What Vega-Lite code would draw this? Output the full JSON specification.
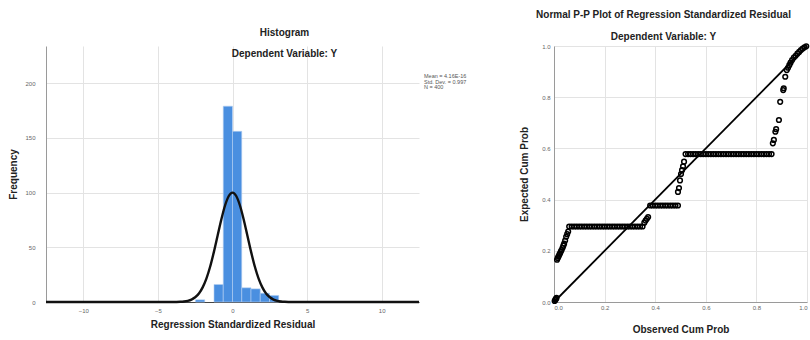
{
  "$schema": "https://vega.github.io/schema/vega-lite/v6.json",
  "padding": {"left": 8, "top": 9, "right": 0, "bottom": 0},
  "bounds": "flush",
  "spacing": 5,
  "config": {
    "font": "Liberation Sans",
    "view": {"stroke": null},
    "axis": {
      "labelFontSize": 6,
      "labelColor": "#666666",
      "titleFontSize": 10,
      "titleFontWeight": "bold",
      "titleColor": "#222222",
      "gridColor": "#e3e3e3",
      "ticks": false,
      "domainColor": "#9a9a9a"
    },
    "title": {
      "fontSize": 10,
      "fontWeight": "bold",
      "color": "#222222",
      "subtitleFontSize": 10,
      "subtitleFontWeight": "bold",
      "subtitleColor": "#222222",
      "anchor": "middle",
      "frame": "group"
    }
  },
  "hconcat": [
    {
      "width": 373,
      "height": 256,
      "title": {"text": "Histogram", "subtitle": "Dependent Variable: Y", "dx": 52, "offset": -13, "subtitlePadding": 11},
      "layer": [
        {
          "data": {"values": [
            {"bin_start": -2.48, "bin_end": -1.86, "count": 2},
            {"bin_start": -1.24, "bin_end": -0.62, "count": 16},
            {"bin_start": -0.62, "bin_end": 0, "count": 179},
            {"bin_start": 0, "bin_end": 0.62, "count": 156},
            {"bin_start": 0.62, "bin_end": 1.24, "count": 13},
            {"bin_start": 1.24, "bin_end": 1.86, "count": 12},
            {"bin_start": 1.86, "bin_end": 2.48, "count": 8},
            {"bin_start": 2.48, "bin_end": 3.1, "count": 6}
          ]},
          "mark": {"type": "rect", "color": "#4a8fe0", "stroke": "#b5d0f2", "strokeWidth": 0.6},
          "encoding": {
            "x": {"field": "bin_start", "type": "quantitative",
                  "scale": {"domain": [-12.5, 12.5], "nice": false, "zero": false},
                  "axis": {"values": [-10, -5, 0, 5, 10], "title": "Regression Standardized Residual", "labelPadding": 5, "titlePadding": 6, "domainColor": "#444444"}},
            "x2": {"field": "bin_end"},
            "y": {"field": "count", "type": "quantitative",
                  "scale": {"domain": [0, 234], "nice": false},
                  "axis": {"values": [0, 50, 100, 150, 200], "title": "Frequency", "labelPadding": 11, "titlePadding": 6}},
            "y2": {"datum": 0}
          }
        },
        {
          "data": {"values": [
            {"residual": -12.5, "frequency": 0},
            {"residual": -4, "frequency": 0},
            {"residual": -3.5, "frequency": 0.2},
            {"residual": -3.25, "frequency": 0.5},
            {"residual": -3, "frequency": 1.1},
            {"residual": -2.75, "frequency": 2.2},
            {"residual": -2.5, "frequency": 4.3},
            {"residual": -2.25, "frequency": 7.8},
            {"residual": -2, "frequency": 13.4},
            {"residual": -1.75, "frequency": 21.4},
            {"residual": -1.5, "frequency": 32.2},
            {"residual": -1.25, "frequency": 45.6},
            {"residual": -1, "frequency": 60.5},
            {"residual": -0.75, "frequency": 75.4},
            {"residual": -0.5, "frequency": 88.2},
            {"residual": -0.25, "frequency": 96.9},
            {"residual": 0, "frequency": 100},
            {"residual": 0.25, "frequency": 96.9},
            {"residual": 0.5, "frequency": 88.2},
            {"residual": 0.75, "frequency": 75.4},
            {"residual": 1, "frequency": 60.5},
            {"residual": 1.25, "frequency": 45.6},
            {"residual": 1.5, "frequency": 32.2},
            {"residual": 1.75, "frequency": 21.4},
            {"residual": 2, "frequency": 13.4},
            {"residual": 2.25, "frequency": 7.8},
            {"residual": 2.5, "frequency": 4.3},
            {"residual": 2.75, "frequency": 2.2},
            {"residual": 3, "frequency": 1.1},
            {"residual": 3.25, "frequency": 0.5},
            {"residual": 3.5, "frequency": 0.2},
            {"residual": 4, "frequency": 0},
            {"residual": 12.5, "frequency": 0}
          ]},
          "mark": {"type": "line", "color": "#111111", "strokeWidth": 2.4, "interpolate": "monotone"},
          "encoding": {
            "x": {"field": "residual", "type": "quantitative"},
            "y": {"field": "frequency", "type": "quantitative"}
          }
        }
      ]
    },
    {
      "width": 125,
      "height": 11,
      "data": {"values": [
        {"stat": "Mean = 4.16E-16", "box": "stats"},
        {"stat": "Std. Dev. = 0.997", "box": "stats"},
        {"stat": "N = 400", "box": "stats"}
      ]},
      "mark": {"type": "text", "align": "left", "baseline": "middle", "fontSize": 5.5, "color": "#555555", "dy": 30},
      "encoding": {
        "x": {"field": "box", "type": "nominal", "scale": {"type": "point", "padding": 0, "align": 0}, "axis": null},
        "y": {"field": "stat", "type": "nominal", "sort": null, "scale": {"type": "point", "padding": 0}, "axis": null},
        "text": {"field": "stat"}
      }
    },
    {
      "width": 253,
      "height": 256,
      "title": {"text": "Normal P-P Plot of Regression Standardized Residual", "subtitle": "Dependent Variable: Y", "dx": -17, "offset": -1, "subtitlePadding": 12},
      "layer": [
        {
          "data": {"values": [
            {"observed": 0, "expected": 0},
            {"observed": 1, "expected": 1}
          ]},
          "mark": {"type": "line", "color": "#000000", "strokeWidth": 1.8},
          "encoding": {
            "x": {"field": "observed", "type": "quantitative",
                  "scale": {"domain": [0, 1], "nice": false},
                  "axis": {"values": [0, 0.2, 0.4, 0.6, 0.8, 1], "format": ".1f", "title": "Observed Cum Prob", "labelPadding": 2, "titlePadding": 14, "labelFlush": true}},
            "y": {"field": "expected", "type": "quantitative",
                  "scale": {"domain": [0, 1], "nice": false},
                  "axis": {"values": [0, 0.2, 0.4, 0.6, 0.8, 1], "format": ".1f", "title": "Expected Cum Prob", "labelPadding": 4, "titlePadding": 12}}
          }
        },
        {
          "data": {"values": [
            {"observed": 0.0025, "expected": 0.004},
            {"observed": 0.005, "expected": 0.008},
            {"observed": 0.0075, "expected": 0.012},
            {"observed": 0.01, "expected": 0.016},
            {"observed": 0.012, "expected": 0.165},
            {"observed": 0.015, "expected": 0.172},
            {"observed": 0.018, "expected": 0.178},
            {"observed": 0.021, "expected": 0.185},
            {"observed": 0.024, "expected": 0.19},
            {"observed": 0.027, "expected": 0.197},
            {"observed": 0.03, "expected": 0.203},
            {"observed": 0.034, "expected": 0.212},
            {"observed": 0.037, "expected": 0.22},
            {"observed": 0.04, "expected": 0.228},
            {"observed": 0.044, "expected": 0.24},
            {"observed": 0.048, "expected": 0.255},
            {"observed": 0.052, "expected": 0.265},
            {"observed": 0.056, "expected": 0.275},
            {"observed": 0.06, "expected": 0.295},
            {"observed": 0.07, "expected": 0.295},
            {"observed": 0.08, "expected": 0.295},
            {"observed": 0.09, "expected": 0.295},
            {"observed": 0.1, "expected": 0.295},
            {"observed": 0.11, "expected": 0.295},
            {"observed": 0.12, "expected": 0.295},
            {"observed": 0.13, "expected": 0.295},
            {"observed": 0.14, "expected": 0.295},
            {"observed": 0.15, "expected": 0.295},
            {"observed": 0.16, "expected": 0.295},
            {"observed": 0.17, "expected": 0.295},
            {"observed": 0.18, "expected": 0.295},
            {"observed": 0.19, "expected": 0.295},
            {"observed": 0.2, "expected": 0.295},
            {"observed": 0.21, "expected": 0.295},
            {"observed": 0.22, "expected": 0.295},
            {"observed": 0.23, "expected": 0.295},
            {"observed": 0.24, "expected": 0.295},
            {"observed": 0.25, "expected": 0.295},
            {"observed": 0.26, "expected": 0.295},
            {"observed": 0.27, "expected": 0.295},
            {"observed": 0.28, "expected": 0.295},
            {"observed": 0.29, "expected": 0.295},
            {"observed": 0.3, "expected": 0.295},
            {"observed": 0.31, "expected": 0.295},
            {"observed": 0.32, "expected": 0.295},
            {"observed": 0.33, "expected": 0.295},
            {"observed": 0.34, "expected": 0.295},
            {"observed": 0.35, "expected": 0.295},
            {"observed": 0.357, "expected": 0.31},
            {"observed": 0.362, "expected": 0.318},
            {"observed": 0.367, "expected": 0.325},
            {"observed": 0.372, "expected": 0.332},
            {"observed": 0.38, "expected": 0.377},
            {"observed": 0.39, "expected": 0.377},
            {"observed": 0.4, "expected": 0.377},
            {"observed": 0.41, "expected": 0.377},
            {"observed": 0.42, "expected": 0.377},
            {"observed": 0.43, "expected": 0.377},
            {"observed": 0.44, "expected": 0.377},
            {"observed": 0.45, "expected": 0.377},
            {"observed": 0.46, "expected": 0.377},
            {"observed": 0.47, "expected": 0.377},
            {"observed": 0.48, "expected": 0.377},
            {"observed": 0.49, "expected": 0.377},
            {"observed": 0.49, "expected": 0.43},
            {"observed": 0.494, "expected": 0.445},
            {"observed": 0.498, "expected": 0.475},
            {"observed": 0.502, "expected": 0.5},
            {"observed": 0.506, "expected": 0.515},
            {"observed": 0.51, "expected": 0.53},
            {"observed": 0.514, "expected": 0.548},
            {"observed": 0.52, "expected": 0.578},
            {"observed": 0.53, "expected": 0.578},
            {"observed": 0.54, "expected": 0.578},
            {"observed": 0.55, "expected": 0.578},
            {"observed": 0.56, "expected": 0.578},
            {"observed": 0.57, "expected": 0.578},
            {"observed": 0.58, "expected": 0.578},
            {"observed": 0.59, "expected": 0.578},
            {"observed": 0.6, "expected": 0.578},
            {"observed": 0.61, "expected": 0.578},
            {"observed": 0.62, "expected": 0.578},
            {"observed": 0.63, "expected": 0.578},
            {"observed": 0.64, "expected": 0.578},
            {"observed": 0.65, "expected": 0.578},
            {"observed": 0.66, "expected": 0.578},
            {"observed": 0.67, "expected": 0.578},
            {"observed": 0.68, "expected": 0.578},
            {"observed": 0.69, "expected": 0.578},
            {"observed": 0.7, "expected": 0.578},
            {"observed": 0.71, "expected": 0.578},
            {"observed": 0.72, "expected": 0.578},
            {"observed": 0.73, "expected": 0.578},
            {"observed": 0.74, "expected": 0.578},
            {"observed": 0.75, "expected": 0.578},
            {"observed": 0.76, "expected": 0.578},
            {"observed": 0.77, "expected": 0.578},
            {"observed": 0.78, "expected": 0.578},
            {"observed": 0.79, "expected": 0.578},
            {"observed": 0.8, "expected": 0.578},
            {"observed": 0.81, "expected": 0.578},
            {"observed": 0.82, "expected": 0.578},
            {"observed": 0.83, "expected": 0.578},
            {"observed": 0.84, "expected": 0.578},
            {"observed": 0.85, "expected": 0.578},
            {"observed": 0.86, "expected": 0.578},
            {"observed": 0.865, "expected": 0.62},
            {"observed": 0.869, "expected": 0.633},
            {"observed": 0.875, "expected": 0.665},
            {"observed": 0.878, "expected": 0.675},
            {"observed": 0.889, "expected": 0.711},
            {"observed": 0.894, "expected": 0.782},
            {"observed": 0.906, "expected": 0.828},
            {"observed": 0.908, "expected": 0.835},
            {"observed": 0.914, "expected": 0.88},
            {"observed": 0.92, "expected": 0.906},
            {"observed": 0.925, "expected": 0.915},
            {"observed": 0.93, "expected": 0.925},
            {"observed": 0.935, "expected": 0.935},
            {"observed": 0.941, "expected": 0.945},
            {"observed": 0.948, "expected": 0.955},
            {"observed": 0.955, "expected": 0.962},
            {"observed": 0.962, "expected": 0.97},
            {"observed": 0.969, "expected": 0.977},
            {"observed": 0.976, "expected": 0.984},
            {"observed": 0.983, "expected": 0.99},
            {"observed": 0.99, "expected": 0.995},
            {"observed": 0.997, "expected": 0.999}
          ]},
          "mark": {"type": "point", "filled": false, "color": "#000000", "size": 22, "strokeWidth": 1.5, "opacity": 1},
          "encoding": {
            "x": {"field": "observed", "type": "quantitative"},
            "y": {"field": "expected", "type": "quantitative"}
          }
        }
      ]
    }
  ]
}
